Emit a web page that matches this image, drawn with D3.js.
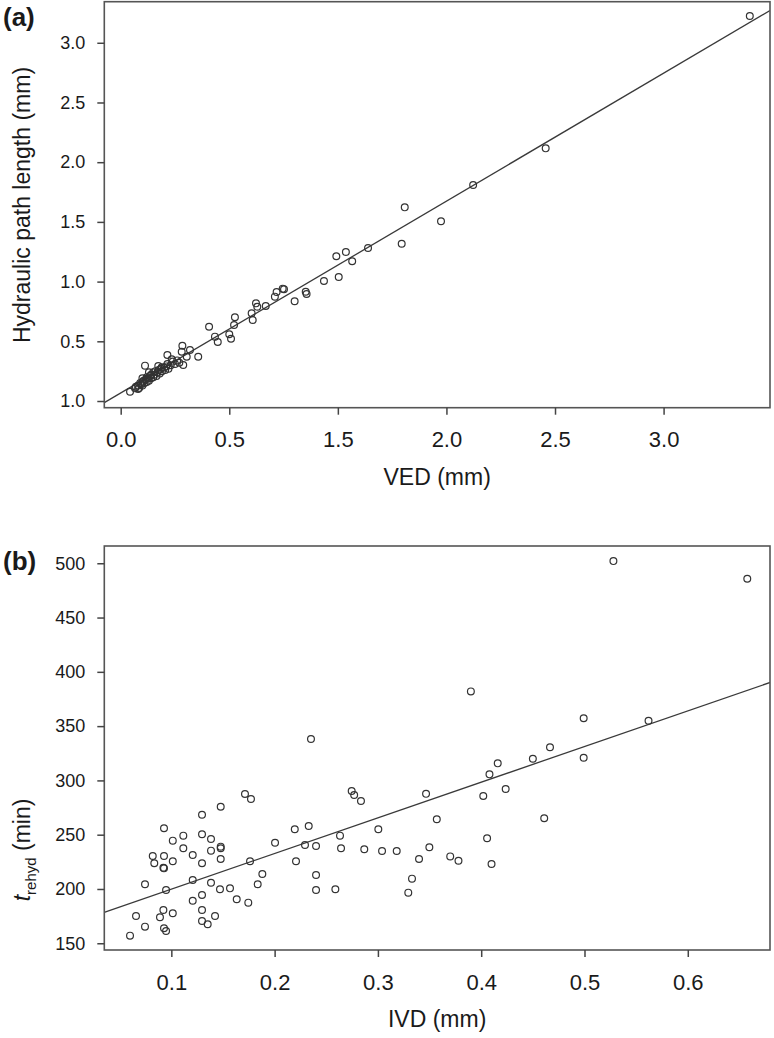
<!DOCTYPE html>
<html>
<head>
<meta charset="utf-8">
<script src="https://cdn.jsdelivr.net/npm/d3@7"></script>
<style>
  body { margin: 0; background: #fff; }
  svg { display: block; }
  text { font-family: "Liberation Sans", Arial, sans-serif; fill: #1a1a1a; }
</style>
</head>
<body>
<script>
// ---------- Panel (a) data: VED (mm) vs hydraulic path length (mm) ----------
const aXTicks = [0, 0.5, 1.0, 1.5, 2.0, 2.5];
const aXTickLabels = ["0.0", "0.5", "1.5", "2.0", "2.5", "3.0"];
const aYTicks = [0, 0.5, 1.0, 1.5, 2.0, 2.5, 3.0];
const aYTickLabels = ["1.0", "0.5", "1.0", "1.5", "2.0", "2.5", "3.0"];
const aPoints = [
  [2.897,3.224],[1.957,2.116],[1.623,1.809],[1.308,1.622],[1.475,1.505],[1.294,1.317],
  [1.139,1.281],[0.993,1.212],[1.037,1.248],[1.066,1.170],[1.004,1.039],[0.936,1.005],
  [0.852,0.915],[0.856,0.896],[0.801,0.835],[0.746,0.941],[0.752,0.936],[0.718,0.913],
  [0.710,0.874],[0.668,0.796],[0.623,0.818],[0.629,0.790],[0.603,0.735],[0.608,0.678],
  [0.526,0.701],[0.522,0.637],[0.407,0.622],[0.434,0.539],[0.447,0.494],[0.500,0.559],
  [0.508,0.522],[0.284,0.463],[0.281,0.413],[0.319,0.427],[0.357,0.371],[0.215,0.385],
  [0.235,0.349],[0.112,0.296],[0.173,0.293],[0.189,0.282],[0.288,0.302],[0.304,0.371],
  [0.043,0.078],[0.066,0.106],
  [0.07,0.12],[0.08,0.13],[0.085,0.11],[0.09,0.15],[0.095,0.14],[0.10,0.16],[0.10,0.13],
  [0.105,0.17],[0.11,0.15],[0.115,0.18],[0.12,0.16],[0.12,0.20],[0.125,0.19],[0.13,0.17],
  [0.135,0.21],[0.14,0.19],[0.14,0.22],[0.15,0.20],[0.15,0.24],[0.155,0.22],[0.16,0.25],
  [0.165,0.21],[0.17,0.24],[0.175,0.26],[0.18,0.23],[0.185,0.27],[0.19,0.25],[0.20,0.28],
  [0.205,0.26],[0.21,0.29],[0.215,0.31],[0.22,0.27],[0.23,0.30],[0.24,0.33],[0.25,0.31],
  [0.26,0.34],[0.27,0.32],[0.10,0.19],[0.13,0.24],[0.08,0.10]
];
const aLineX = [-0.0755, 2.99];
const aLineY = [-0.014, 3.27];

// ---------- Panel (b) data: IVD (mm) vs t_rehyd (min) ----------
const bXTicks = [0.1, 0.2, 0.3, 0.4, 0.5, 0.6];
const bXTickLabels = ["0.1", "0.2", "0.3", "0.4", "0.5", "0.6"];
const bYTicks = [150, 200, 250, 300, 350, 400, 450, 500];
const bYTickLabels = ["150", "200", "250", "300", "350", "400", "450", "500"];
const bPoints = [
  [0.0929,255.9],[0.1014,244.5],[0.1116,249.1],[0.1297,250.4],[0.1384,246.0],[0.1116,237.5],
  [0.1207,231.3],[0.1384,235.3],[0.1478,237.5],[0.1478,239.0],[0.1478,227.6],[0.0820,230.4],
  [0.0929,230.4],[0.0835,223.7],[0.1014,225.5],[0.0923,219.6],[0.0929,219.0],[0.1297,223.7],
  [0.0745,204.3],[0.0949,199.1],[0.1207,208.3],[0.1384,205.8],[0.1471,199.7],[0.1568,200.6],
  [0.1297,194.5],[0.1207,189.2],[0.1633,190.5],[0.1745,187.4],[0.1762,225.5],[0.1836,204.3],
  [0.1881,213.8],[0.2004,242.6],[0.2195,255.0],[0.2330,258.0],[0.2294,240.5],[0.2401,239.6],
  [0.2207,225.5],[0.2401,212.9],[0.2401,199.1],[0.2588,199.7],[0.2633,249.1],[0.2643,237.5],
  [0.2868,236.6],[0.3040,235.0],[0.3182,235.0],[0.3004,255.0],[0.3498,238.4],[0.3398,227.6],
  [0.3330,209.5],[0.3294,196.6],[0.3570,264.2],[0.0923,180.7],[0.1014,177.6],[0.0890,173.9],
  [0.0658,175.1],[0.0745,165.3],[0.0600,157.0],[0.0929,163.8],[0.0949,161.3],[0.1297,180.7],
  [0.1297,170.5],[0.1352,167.5],[0.1423,175.1],
  [0.2352,338.1],[0.1713,287.5],[0.1771,282.9],[0.1478,275.8],[0.1297,268.4],[0.3466,287.6],
  [0.2746,290.3],[0.2770,286.6],[0.2836,281.1],[0.3900,382.0],[0.4992,357.2],[0.5620,355.0],
  [0.4666,330.5],[0.4500,320.0],[0.4160,315.7],[0.4080,305.6],[0.4992,320.9],[0.4237,292.1],
  [0.4020,285.6],[0.4610,265.1],[0.5280,502.0],[0.6576,485.7],[0.4057,246.7],
  [0.3700,230.0],[0.3780,226.0],[0.4100,223.0]
];
const bLineX = [0.035, 0.68];
const bLineY = [178.5, 390.3];

const W = 774, H = 1038;
const svg = d3.select("body").append("svg").attr("width", W).attr("height", H);

function panel(o) {
  const x = d3.scaleLinear().domain(o.xDomain).range([o.left, o.right]);
  const y = d3.scaleLinear().domain(o.yDomain).range([o.bottom, o.top]);
  const g = svg.append("g");
  const clipId = "clip" + o.id;
  svg.append("clipPath").attr("id", clipId).append("rect")
    .attr("x", o.left).attr("y", o.top).attr("width", o.right - o.left).attr("height", o.bottom - o.top);

  // regression line
  g.append("line").attr("clip-path", `url(#${clipId})`)
    .attr("x1", x(o.lineX[0])).attr("y1", y(o.lineY[0]))
    .attr("x2", x(o.lineX[1])).attr("y2", y(o.lineY[1]))
    .attr("stroke", "#3a3a3a").attr("stroke-width", 1.3);

  // points
  g.append("g").selectAll("circle").data(o.points).join("circle")
    .attr("cx", d => x(d[0])).attr("cy", d => y(d[1])).attr("r", 3.4)
    .attr("fill", "none").attr("stroke", "#333").attr("stroke-width", 1.2);

  // frame
  g.append("rect").attr("x", o.left).attr("y", o.top)
    .attr("width", o.right - o.left).attr("height", o.bottom - o.top)
    .attr("fill", "none").attr("stroke", "#555").attr("stroke-width", 1.6);

  // axes
  const xa = g.append("g").attr("transform", `translate(0,${o.bottom})`)
    .call(d3.axisBottom(x).tickValues(o.xTicks).tickFormat((d, i) => o.xTickLabels[i])
      .tickSize(7).tickSizeOuter(0).tickPadding(17));
  xa.select(".domain").remove();
  xa.selectAll("line").attr("stroke", "#444").attr("stroke-width", 1.5);
  xa.selectAll("text").attr("font-size", 22).attr("fill", "#1a1a1a")
    .attr("font-family", "'Liberation Sans', Arial, sans-serif");

  const ya = g.append("g").attr("transform", `translate(${o.left},0)`)
    .call(d3.axisLeft(y).tickValues(o.yTicks).tickFormat((d, i) => o.yTickLabels[i])
      .tickSize(7).tickSizeOuter(0).tickPadding(12));
  ya.select(".domain").remove();
  ya.selectAll("line").attr("stroke", "#444").attr("stroke-width", 1.5);
  ya.selectAll("text").attr("font-size", 18).attr("fill", "#1a1a1a")
    .attr("font-family", "'Liberation Sans', Arial, sans-serif");

  // x title
  g.append("text").attr("x", (o.left + o.right) / 2).attr("y", o.bottom + 77)
    .attr("text-anchor", "middle").attr("font-size", 23).text(o.xTitle);

  // panel label
  g.append("text").attr("x", 3).attr("y", o.top + 24)
    .attr("font-size", 26).attr("font-weight", "bold").text(o.label);

  return { x, y, g };
}

const pa = panel({
  id: "a", left: 104.3, right: 770, top: 1.7, bottom: 407.7,
  xDomain: [-0.0755, 2.99], yDomain: [-0.056, 3.344],
  xTicks: aXTicks, xTickLabels: aXTickLabels, yTicks: aYTicks, yTickLabels: aYTickLabels,
  points: aPoints, lineX: aLineX, lineY: aLineY, xTitle: "VED (mm)", label: "(a)"
});
pa.g.append("text").attr("transform", "translate(30,205) rotate(-90)")
  .attr("text-anchor", "middle").attr("font-size", 23).text("Hydraulic path length (mm)");

const pb = panel({
  id: "b", left: 104.3, right: 770, top: 546, bottom: 950,
  xDomain: [0.0351, 0.6796], yDomain: [143.8, 515.9],
  xTicks: bXTicks, xTickLabels: bXTickLabels, yTicks: bYTicks, yTickLabels: bYTickLabels,
  points: bPoints, lineX: bLineX, lineY: bLineY, xTitle: "IVD (mm)", label: "(b)"
});
const yt = pb.g.append("text").attr("transform", "translate(30,850) rotate(-90)")
  .attr("text-anchor", "middle").attr("font-size", 23);
yt.append("tspan").attr("font-style", "italic").text("t");
yt.append("tspan").attr("font-size", 15).attr("dy", 6).text("rehyd");
yt.append("tspan").attr("dy", -6).text(" (min)");
</script>
</body>
</html>
